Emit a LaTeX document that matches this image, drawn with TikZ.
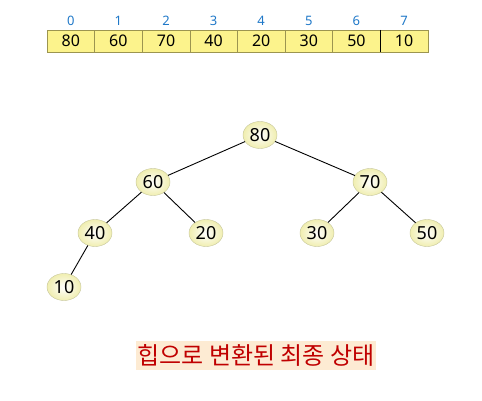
\documentclass[tikz,border=0pt]{standalone}
\usepackage{fontspec}
\setmainfont{Noto Sans}
\newfontfamily\kofont{Noto Sans CJK KR}
\usetikzlibrary{shapes.geometric}
\definecolor{cellfill}{HTML}{FCF38C}
\definecolor{cellline}{HTML}{9C9550}
\definecolor{idxblue}{HTML}{1F78C8}
\definecolor{capred}{HTML}{C00000}
\definecolor{capbg}{HTML}{FDEBD3}
\definecolor{heapedge}{HTML}{C4C49A}
\definecolor{heapfill}{HTML}{F0EEB0}
\tikzset{
  cell/.style={draw=cellline, fill=cellfill, minimum width=47.6pt, minimum height=22pt,
    inner sep=0pt, font=\fontsize{16}{16}\selectfont},
  idx/.style={text=idxblue, font=\fontsize{13}{13}\selectfont},
  heap/.style={ellipse, draw=heapedge, inner color=white, outer color=heapfill,
    minimum width=34pt, minimum height=27pt, inner sep=0pt, font=\fontsize{18}{18}\selectfont},
  link/.style={line width=0.9pt},
}

\begin{document}
\begin{tikzpicture}[x=1pt, y=-1pt]
    \useasboundingbox (0,0) rectangle (482,401);
    % array
    \foreach \v [count=\i from 0] in {80,60,70,40,20,30,50,10}
      {
        \node[cell] (c\i) at ({70.8+47.6*\i}, 41) {\v};
        \node[idx] (i\i) at ({70.8+47.6*\i}, 21) {\i};
      }
    \draw (c7.north west) -- (c7.south west);

    % tree
    \node[heap] (n80) at (260, 135) {80};
    \node[heap] (n60) at (153, 182) {60};
    \node[heap] (n70) at (370, 182) {70};
    \node[heap] (n40) at (95, 233) {40};
    \node[heap] (n20) at (206, 233) {20};
    \node[heap] (n30) at (317, 233) {30};
    \node[heap] (n50) at (427, 233) {50};
    \node[heap] (n10) at (64, 287) {10};
    \draw[link] (n80) -- (n60);
    \draw[link] (n80) -- (n70);
    \draw[link] (n60) -- (n40);
    \draw[link] (n60) -- (n20);
    \draw[link] (n70) -- (n30);
    \draw[link] (n70) -- (n50);
    \draw[link] (n40) -- (n10);

    \node[fill=capbg, text=capred, inner sep=2pt, minimum height=29pt,
      font=\kofont\fontsize{24}{24}\selectfont]
      (caption) at (256, 355) {힙으로 변환된 최종 상태};
\end{tikzpicture}
\end{document}
